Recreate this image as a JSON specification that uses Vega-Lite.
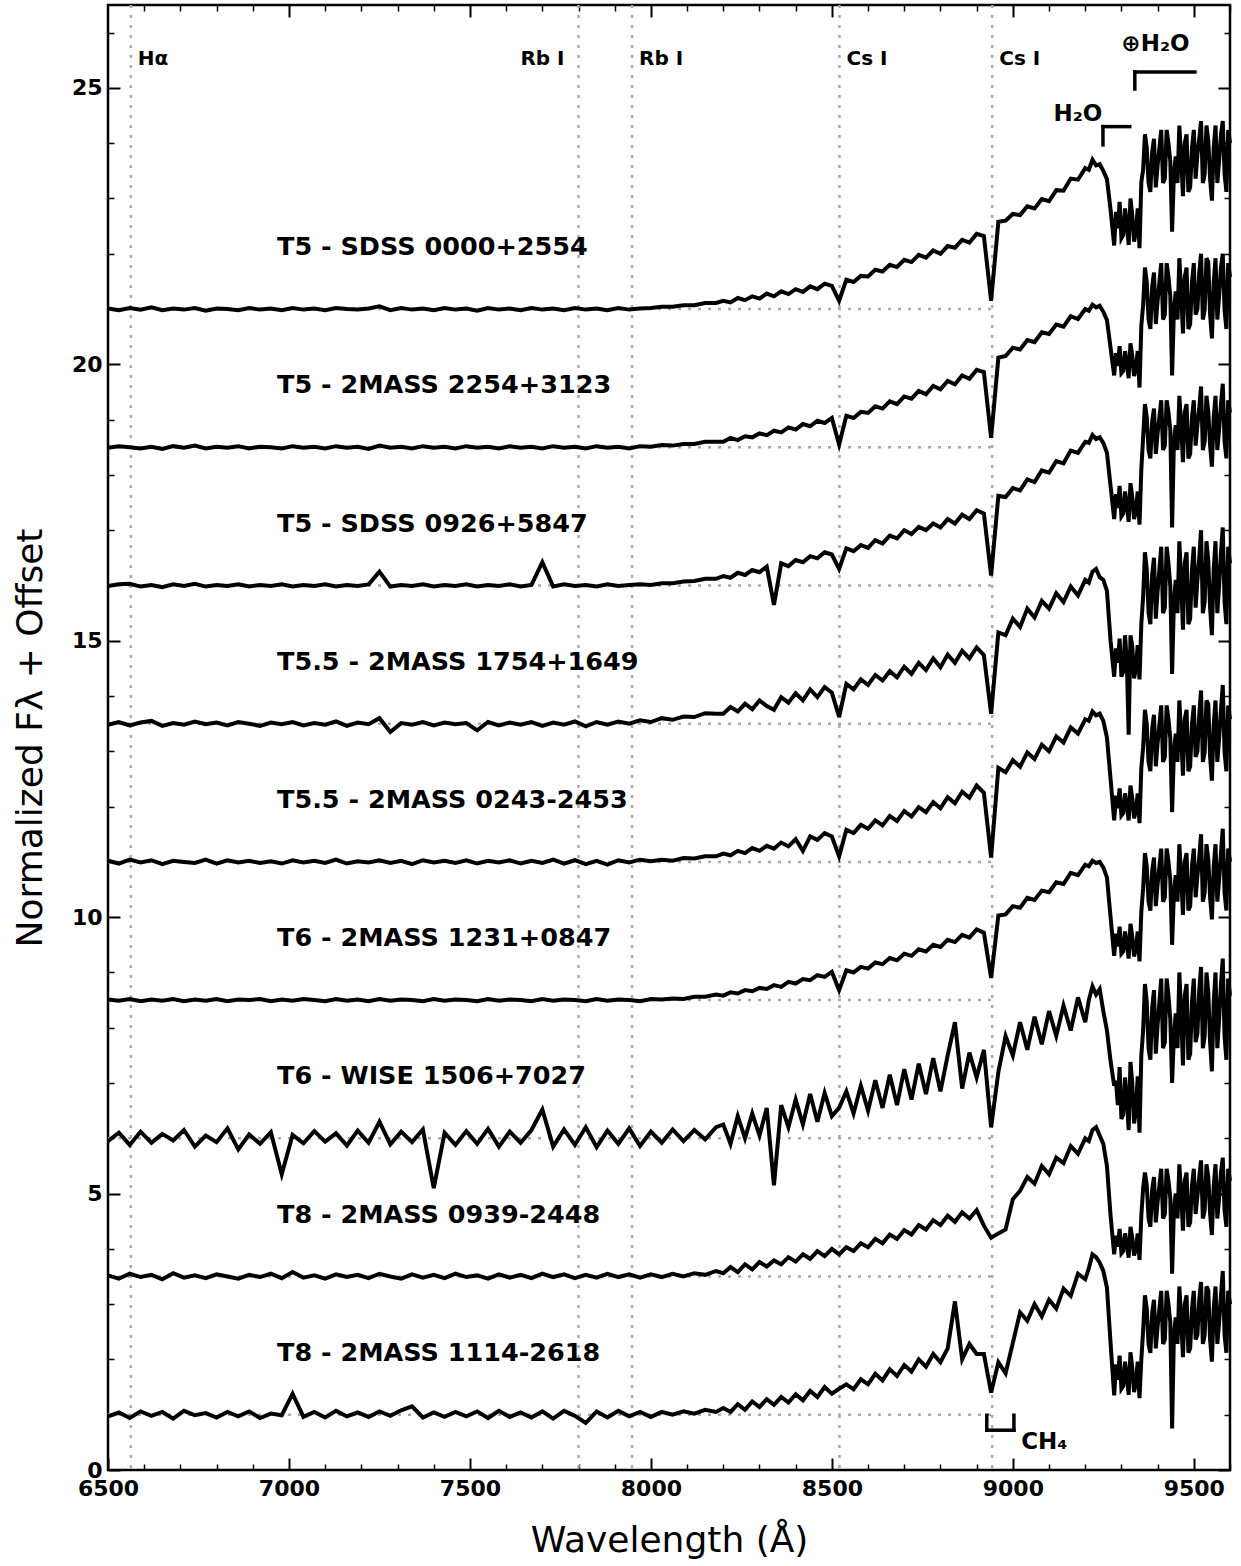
{
"$schema": "https://vega.github.io/schema/vega-lite/v6.json",
"width": 1122, "height": 1465,
"autosize": {"type": "none"},
"padding": {"left": 108, "top": 5, "right": 11, "bottom": 96},
"background": "white",
"config": {
 "view": {"stroke": "#000", "strokeWidth": 2.5},
 "font": "DejaVu Sans",
 "axis": {"labelFont": "DejaVu Sans", "labelFontWeight": "bold", "labelFontSize": 22, "labelColor": "#000", "tickColor": "#000", "domain": false, "grid": false, "titleFont": "DejaVu Sans", "titleFontWeight": "normal", "titleFontSize": 36, "titleColor": "#000", "format": "d", "labelFlush": false, "labelOverlap": false}
},
"resolve": {"axis": {"x": "independent", "y": "independent"}},
"datasets": {
 "spec": [
{"w":6500,"a":21.01,"b":18.49,"c":15.99,"d":13.48,"e":11.02,"f":8.51,"g":5.95,"h":3.52,"i":0.97},
{"w":6530,"a":20.98,"b":18.52,"c":16.02,"d":13.53,"e":10.97,"f":8.49,"g":6.1,"h":3.46,"i":1.04},
{"w":6560,"a":21.02,"b":18.5,"c":16.03,"d":13.47,"e":11.04,"f":8.52,"g":5.88,"h":3.55,"i":0.94},
{"w":6590,"a":20.99,"b":18.48,"c":15.98,"d":13.52,"e":10.99,"f":8.48,"g":6.12,"h":3.49,"i":1.06},
{"w":6620,"a":21.03,"b":18.51,"c":16.01,"d":13.55,"e":11.03,"f":8.51,"g":5.92,"h":3.53,"i":0.98},
{"w":6650,"a":20.98,"b":18.47,"c":15.97,"d":13.46,"e":10.96,"f":8.49,"g":6.08,"h":3.45,"i":1.05},
{"w":6680,"a":21.01,"b":18.52,"c":16.02,"d":13.51,"e":11.02,"f":8.52,"g":5.96,"h":3.56,"i":0.93},
{"w":6710,"a":20.99,"b":18.49,"c":15.99,"d":13.48,"e":11.0,"f":8.48,"g":6.15,"h":3.48,"i":1.07},
{"w":6740,"a":21.02,"b":18.53,"c":16.03,"d":13.54,"e":10.98,"f":8.51,"g":5.85,"h":3.52,"i":0.99},
{"w":6770,"a":20.97,"b":18.48,"c":15.98,"d":13.49,"e":11.04,"f":8.49,"g":6.05,"h":3.47,"i":1.03},
{"w":6800,"a":21.01,"b":18.51,"c":16.01,"d":13.52,"e":10.97,"f":8.52,"g":5.93,"h":3.54,"i":0.95},
{"w":6830,"a":21.0,"b":18.49,"c":15.99,"d":13.47,"e":11.03,"f":8.48,"g":6.18,"h":3.5,"i":1.05},
{"w":6860,"a":20.98,"b":18.52,"c":16.02,"d":13.53,"e":10.99,"f":8.51,"g":5.8,"h":3.46,"i":0.97},
{"w":6890,"a":21.02,"b":18.48,"c":15.98,"d":13.5,"e":11.02,"f":8.5,"g":6.07,"h":3.53,"i":1.06},
{"w":6920,"a":20.99,"b":18.51,"c":16.01,"d":13.46,"e":10.98,"f":8.52,"g":5.9,"h":3.49,"i":0.94},
{"w":6950,"a":21.01,"b":18.5,"c":15.99,"d":13.52,"e":11.01,"f":8.48,"g":6.11,"h":3.55,"i":1.02},
{"w":6980,"a":20.98,"b":18.48,"c":16.02,"d":13.49,"e":10.97,"f":8.51,"g":5.35,"h":3.47,"i":0.99},
{"w":7010,"a":21.02,"b":18.52,"c":15.98,"d":13.53,"e":11.03,"f":8.49,"g":6.06,"h":3.58,"i":1.38},
{"w":7040,"a":20.99,"b":18.49,"c":16.01,"d":13.47,"e":10.99,"f":8.52,"g":5.91,"h":3.48,"i":0.96},
{"w":7070,"a":21.01,"b":18.51,"c":15.99,"d":13.51,"e":11.02,"f":8.5,"g":6.13,"h":3.52,"i":1.05},
{"w":7100,"a":20.98,"b":18.48,"c":16.02,"d":13.48,"e":10.98,"f":8.48,"g":5.94,"h":3.46,"i":0.95},
{"w":7130,"a":21.02,"b":18.52,"c":15.98,"d":13.54,"e":11.04,"f":8.52,"g":6.09,"h":3.54,"i":1.07},
{"w":7160,"a":21.0,"b":18.49,"c":16.01,"d":13.46,"e":10.97,"f":8.49,"g":5.87,"h":3.49,"i":0.97},
{"w":7190,"a":20.99,"b":18.51,"c":15.99,"d":13.52,"e":11.01,"f":8.51,"g":6.14,"h":3.53,"i":1.04},
{"w":7220,"a":21.01,"b":18.47,"c":16.02,"d":13.49,"e":10.99,"f":8.48,"g":5.92,"h":3.47,"i":0.96},
{"w":7250,"a":21.05,"b":18.53,"c":16.25,"d":13.6,"e":11.03,"f":8.52,"g":6.3,"h":3.55,"i":1.06},
{"w":7280,"a":20.98,"b":18.49,"c":15.98,"d":13.35,"e":10.98,"f":8.49,"g":5.89,"h":3.5,"i":0.98},
{"w":7310,"a":21.02,"b":18.51,"c":16.01,"d":13.51,"e":11.02,"f":8.51,"g":6.12,"h":3.46,"i":1.08},
{"w":7340,"a":20.99,"b":18.48,"c":15.99,"d":13.48,"e":10.96,"f":8.5,"g":5.93,"h":3.54,"i":1.15},
{"w":7370,"a":21.01,"b":18.52,"c":16.02,"d":13.53,"e":11.03,"f":8.48,"g":6.16,"h":3.48,"i":0.95},
{"w":7400,"a":20.98,"b":18.49,"c":15.98,"d":13.47,"e":10.99,"f":8.52,"g":5.1,"h":3.53,"i":1.04},
{"w":7430,"a":21.02,"b":18.51,"c":16.01,"d":13.52,"e":11.02,"f":8.49,"g":6.1,"h":3.47,"i":0.96},
{"w":7460,"a":20.99,"b":18.48,"c":15.99,"d":13.49,"e":10.98,"f":8.51,"g":5.88,"h":3.55,"i":1.05},
{"w":7490,"a":21.01,"b":18.52,"c":16.02,"d":13.51,"e":11.03,"f":8.5,"g":6.13,"h":3.49,"i":0.97},
{"w":7520,"a":20.97,"b":18.49,"c":15.98,"d":13.38,"e":10.97,"f":8.48,"g":5.9,"h":3.52,"i":1.06},
{"w":7550,"a":21.02,"b":18.51,"c":16.01,"d":13.53,"e":11.02,"f":8.52,"g":6.17,"h":3.46,"i":0.94},
{"w":7580,"a":20.99,"b":18.48,"c":15.99,"d":13.47,"e":10.99,"f":8.49,"g":5.85,"h":3.54,"i":1.07},
{"w":7610,"a":21.01,"b":18.52,"c":16.02,"d":13.52,"e":11.03,"f":8.51,"g":6.12,"h":3.48,"i":0.96},
{"w":7640,"a":20.98,"b":18.49,"c":15.98,"d":13.48,"e":10.97,"f":8.5,"g":5.92,"h":3.53,"i":1.04},
{"w":7670,"a":21.02,"b":18.51,"c":16.01,"d":13.53,"e":11.02,"f":8.48,"g":6.15,"h":3.47,"i":0.95},
{"w":7700,"a":20.99,"b":18.48,"c":16.42,"d":13.46,"e":10.98,"f":8.52,"g":6.52,"h":3.55,"i":1.06},
{"w":7730,"a":21.01,"b":18.52,"c":15.98,"d":13.52,"e":11.04,"f":8.49,"g":5.85,"h":3.49,"i":0.93},
{"w":7760,"a":20.98,"b":18.49,"c":16.02,"d":13.48,"e":10.97,"f":8.51,"g":6.16,"h":3.54,"i":1.07},
{"w":7790,"a":21.02,"b":18.51,"c":15.99,"d":13.54,"e":11.03,"f":8.5,"g":5.88,"h":3.47,"i":0.98},
{"w":7820,"a":20.99,"b":18.48,"c":16.01,"d":13.45,"e":10.96,"f":8.48,"g":6.2,"h":3.53,"i":0.85},
{"w":7850,"a":21.01,"b":18.52,"c":15.98,"d":13.53,"e":11.02,"f":8.52,"g":5.84,"h":3.48,"i":1.06},
{"w":7880,"a":20.98,"b":18.49,"c":16.02,"d":13.48,"e":10.95,"f":8.49,"g":6.14,"h":3.55,"i":0.95},
{"w":7910,"a":21.02,"b":18.51,"c":15.99,"d":13.54,"e":11.03,"f":8.51,"g":5.9,"h":3.49,"i":1.07},
{"w":7940,"a":20.99,"b":18.48,"c":16.01,"d":13.5,"e":10.99,"f":8.5,"g":6.18,"h":3.54,"i":0.97},
{"w":7970,"a":21.01,"b":18.52,"c":16.02,"d":13.56,"e":11.04,"f":8.48,"g":5.86,"h":3.48,"i":1.05},
{"w":8000,"a":21.02,"b":18.51,"c":16.01,"d":13.53,"e":11.01,"f":8.52,"g":6.12,"h":3.54,"i":0.96},
{"w":8030,"a":21.04,"b":18.54,"c":16.04,"d":13.6,"e":11.04,"f":8.51,"g":5.92,"h":3.49,"i":1.05},
{"w":8060,"a":21.04,"b":18.53,"c":16.04,"d":13.57,"e":11.02,"f":8.53,"g":6.16,"h":3.55,"i":1.0},
{"w":8090,"a":21.07,"b":18.56,"c":16.07,"d":13.63,"e":11.07,"f":8.52,"g":5.95,"h":3.5,"i":1.06},
{"w":8120,"a":21.07,"b":18.56,"c":16.08,"d":13.62,"e":11.06,"f":8.56,"g":6.15,"h":3.56,"i":1.02},
{"w":8150,"a":21.11,"b":18.6,"c":16.12,"d":13.69,"e":11.1,"f":8.56,"g":5.98,"h":3.53,"i":1.09},
{"w":8180,"a":21.11,"b":18.6,"c":16.12,"d":13.68,"e":11.1,"f":8.6,"g":6.2,"h":3.6,"i":1.05},
{"w":8200,"a":21.15,"b":18.6,"c":16.17,"d":13.68,"e":11.15,"f":8.58,"g":6.25,"h":3.56,"i":1.12},
{"w":8220,"a":21.12,"b":18.67,"c":16.14,"d":13.8,"e":11.12,"f":8.64,"g":5.9,"h":3.67,"i":1.05},
{"w":8240,"a":21.2,"b":18.63,"c":16.23,"d":13.72,"e":11.2,"f":8.62,"g":6.4,"h":3.58,"i":1.19},
{"w":8260,"a":21.16,"b":18.7,"c":16.19,"d":13.86,"e":11.16,"f":8.68,"g":6.0,"h":3.72,"i":1.09},
{"w":8280,"a":21.23,"b":18.68,"c":16.28,"d":13.76,"e":11.25,"f":8.66,"g":6.45,"h":3.63,"i":1.24},
{"w":8300,"a":21.19,"b":18.75,"c":16.24,"d":13.92,"e":11.2,"f":8.72,"g":6.05,"h":3.76,"i":1.14},
{"w":8320,"a":21.28,"b":18.72,"c":16.34,"d":13.82,"e":11.29,"f":8.7,"g":6.55,"h":3.68,"i":1.28},
{"w":8340,"a":21.23,"b":18.8,"c":15.65,"d":13.75,"e":11.24,"f":8.77,"g":5.15,"h":3.79,"i":1.18},
{"w":8360,"a":21.32,"b":18.77,"c":16.4,"d":13.98,"e":11.35,"f":8.74,"g":6.6,"h":3.72,"i":1.32},
{"w":8380,"a":21.27,"b":18.86,"c":16.35,"d":13.88,"e":11.28,"f":8.83,"g":6.2,"h":3.85,"i":1.22},
{"w":8400,"a":21.36,"b":18.82,"c":16.46,"d":14.05,"e":11.41,"f":8.8,"g":6.7,"h":3.77,"i":1.37},
{"w":8420,"a":21.31,"b":18.92,"c":16.42,"d":13.92,"e":11.2,"f":8.88,"g":6.25,"h":3.9,"i":1.26},
{"w":8440,"a":21.41,"b":18.88,"c":16.53,"d":14.12,"e":11.46,"f":8.86,"g":6.8,"h":3.82,"i":1.43},
{"w":8460,"a":21.36,"b":18.98,"c":16.49,"d":13.98,"e":11.4,"f":8.95,"g":6.3,"h":3.96,"i":1.32},
{"w":8480,"a":21.46,"b":18.94,"c":16.6,"d":14.16,"e":11.52,"f":8.92,"g":6.82,"h":3.87,"i":1.5},
{"w":8500,"a":21.42,"b":19.03,"c":16.56,"d":14.06,"e":11.46,"f":9.01,"g":6.4,"h":4.0,"i":1.38},
{"w":8520,"a":21.15,"b":18.55,"c":16.3,"d":13.62,"e":11.1,"f":8.68,"g":6.55,"h":3.9,"i":1.47},
{"w":8540,"a":21.53,"b":19.07,"c":16.67,"d":14.22,"e":11.58,"f":9.04,"g":6.85,"h":4.03,"i":1.55},
{"w":8560,"a":21.49,"b":19.03,"c":16.62,"d":14.12,"e":11.52,"f":9.0,"g":6.45,"h":3.96,"i":1.46},
{"w":8580,"a":21.6,"b":19.14,"c":16.73,"d":14.3,"e":11.67,"f":9.1,"g":6.95,"h":4.1,"i":1.64},
{"w":8600,"a":21.59,"b":19.12,"c":16.68,"d":14.2,"e":11.6,"f":9.07,"g":6.5,"h":4.03,"i":1.55},
{"w":8620,"a":21.71,"b":19.24,"c":16.82,"d":14.38,"e":11.75,"f":9.18,"g":7.05,"h":4.18,"i":1.74},
{"w":8640,"a":21.68,"b":19.2,"c":16.76,"d":14.28,"e":11.66,"f":9.15,"g":6.55,"h":4.1,"i":1.62},
{"w":8660,"a":21.8,"b":19.33,"c":16.9,"d":14.45,"e":11.83,"f":9.26,"g":7.15,"h":4.26,"i":1.82},
{"w":8680,"a":21.76,"b":19.28,"c":16.85,"d":14.34,"e":11.74,"f":9.22,"g":6.6,"h":4.18,"i":1.7},
{"w":8700,"a":21.89,"b":19.42,"c":17.0,"d":14.53,"e":11.92,"f":9.34,"g":7.25,"h":4.34,"i":1.9},
{"w":8720,"a":21.85,"b":19.38,"c":16.93,"d":14.4,"e":11.82,"f":9.3,"g":6.7,"h":4.26,"i":1.78},
{"w":8740,"a":21.98,"b":19.52,"c":17.06,"d":14.6,"e":11.99,"f":9.42,"g":7.35,"h":4.43,"i":2.0},
{"w":8760,"a":21.93,"b":19.46,"c":17.0,"d":14.47,"e":11.9,"f":9.38,"g":6.8,"h":4.35,"i":1.87},
{"w":8780,"a":22.06,"b":19.61,"c":17.12,"d":14.68,"e":12.08,"f":9.5,"g":7.45,"h":4.52,"i":2.1},
{"w":8800,"a":22.0,"b":19.55,"c":17.05,"d":14.52,"e":11.97,"f":9.46,"g":6.85,"h":4.43,"i":1.95},
{"w":8820,"a":22.14,"b":19.7,"c":17.2,"d":14.75,"e":12.17,"f":9.59,"g":7.5,"h":4.6,"i":2.2},
{"w":8840,"a":22.11,"b":19.64,"c":17.12,"d":14.6,"e":12.06,"f":9.55,"g":8.1,"h":4.49,"i":3.05},
{"w":8860,"a":22.25,"b":19.8,"c":17.28,"d":14.82,"e":12.27,"f":9.68,"g":6.9,"h":4.66,"i":2.0},
{"w":8880,"a":22.2,"b":19.74,"c":17.2,"d":14.68,"e":12.16,"f":9.63,"g":7.55,"h":4.55,"i":2.28},
{"w":8900,"a":22.36,"b":19.9,"c":17.36,"d":14.88,"e":12.38,"f":9.78,"g":7.1,"h":4.7,"i":2.1},
{"w":8920,"a":22.32,"b":19.86,"c":17.3,"d":14.74,"e":12.25,"f":9.72,"g":7.6,"h":4.42,"i":2.1},
{"w":8940,"a":21.15,"b":18.67,"c":16.18,"d":13.68,"e":11.08,"f":8.9,"g":6.2,"h":4.2,"i":1.4},
{"w":8960,"a":22.58,"b":20.12,"c":17.62,"d":15.15,"e":12.7,"f":10.03,"g":7.2,"h":4.28,"i":1.95},
{"w":8980,"a":22.6,"b":20.15,"c":17.6,"d":15.1,"e":12.62,"f":10.05,"g":7.85,"h":4.35,"i":1.75},
{"w":9000,"a":22.72,"b":20.3,"c":17.76,"d":15.4,"e":12.84,"f":10.2,"g":7.5,"h":4.9,"i":2.3},
{"w":9020,"a":22.7,"b":20.27,"c":17.72,"d":15.25,"e":12.72,"f":10.17,"g":8.1,"h":5.05,"i":2.85},
{"w":9040,"a":22.86,"b":20.44,"c":17.92,"d":15.58,"e":12.98,"f":10.35,"g":7.6,"h":5.3,"i":2.7},
{"w":9060,"a":22.82,"b":20.4,"c":17.87,"d":15.42,"e":12.86,"f":10.31,"g":8.2,"h":5.18,"i":3.0},
{"w":9080,"a":22.99,"b":20.58,"c":18.08,"d":15.72,"e":13.12,"f":10.48,"g":7.7,"h":5.5,"i":2.78},
{"w":9100,"a":22.95,"b":20.55,"c":18.04,"d":15.58,"e":13.0,"f":10.45,"g":8.3,"h":5.35,"i":3.08},
{"w":9120,"a":23.15,"b":20.72,"c":18.25,"d":15.86,"e":13.27,"f":10.63,"g":7.85,"h":5.65,"i":2.92},
{"w":9140,"a":23.14,"b":20.68,"c":18.21,"d":15.7,"e":13.16,"f":10.6,"g":8.4,"h":5.55,"i":3.28},
{"w":9160,"a":23.36,"b":20.87,"c":18.44,"d":15.98,"e":13.43,"f":10.8,"g":7.95,"h":5.86,"i":3.15},
{"w":9180,"a":23.34,"b":20.82,"c":18.4,"d":15.82,"e":13.32,"f":10.76,"g":8.55,"h":5.72,"i":3.55},
{"w":9200,"a":23.55,"b":21.0,"c":18.6,"d":16.1,"e":13.58,"f":10.95,"g":8.1,"h":6.0,"i":3.45},
{"w":9210,"a":23.52,"b":20.97,"c":18.58,"d":16.05,"e":13.55,"f":10.92,"g":8.5,"h":5.95,"i":3.65},
{"w":9220,"a":23.7,"b":21.08,"c":18.72,"d":16.25,"e":13.72,"f":11.02,"g":8.75,"h":6.15,"i":3.9},
{"w":9230,"a":23.6,"b":21.03,"c":18.65,"d":16.3,"e":13.65,"f":10.98,"g":8.6,"h":6.2,"i":3.85},
{"w":9240,"a":23.62,"b":21.06,"c":18.68,"d":16.15,"e":13.68,"f":11.0,"g":8.7,"h":6.05,"i":3.75},
{"w":9250,"a":23.5,"b":20.95,"c":18.58,"d":16.1,"e":13.55,"f":10.9,"g":8.3,"h":5.9,"i":3.6},
{"w":9260,"a":23.35,"b":20.8,"c":18.4,"d":15.9,"e":13.25,"f":10.72,"g":7.95,"h":5.5,"i":3.3},
{"w":9270,"a":22.8,"b":20.3,"c":17.8,"d":15.0,"e":12.5,"f":10.0,"g":7.4,"h":4.6,"i":2.3},
{"w":9280,"a":22.15,"b":19.8,"c":17.2,"d":14.35,"e":11.75,"f":9.3,"g":6.95,"h":3.9,"i":1.35},
{"w":9290,"a":22.46,"b":19.97,"c":17.4,"d":14.6,"e":11.97,"f":9.47,"g":6.6,"h":4.04,"i":1.63},
{"w":9300,"a":22.28,"b":19.84,"c":17.25,"d":14.35,"e":11.84,"f":9.34,"g":6.35,"h":3.92,"i":1.47},
{"w":9310,"a":22.82,"b":20.24,"c":17.7,"d":15.1,"e":12.24,"f":9.74,"g":7.1,"h":4.28,"i":1.96},
{"w":9320,"a":22.16,"b":19.75,"c":17.15,"d":13.3,"e":11.75,"f":9.25,"g":6.15,"h":3.84,"i":1.36},
{"w":9330,"a":22.7,"b":20.15,"c":17.6,"d":14.9,"e":12.15,"f":9.65,"g":7.0,"h":4.2,"i":1.85},
{"w":9340,"a":22.4,"b":19.93,"c":17.35,"d":14.5,"e":11.93,"f":9.43,"g":6.5,"h":4.0,"i":1.58},
{"w":9350,"a":22.1,"b":19.58,"c":17.1,"d":14.3,"e":11.7,"f":9.2,"g":6.1,"h":3.8,"i":1.3},
{"w":9360,"a":23.52,"b":21.07,"c":18.68,"d":15.8,"e":13.07,"f":10.52,"g":7.95,"h":5.1,"i":2.52},
{"w":9370,"a":23.92,"b":21.49,"c":19.05,"d":16.3,"e":13.49,"f":10.92,"g":8.47,"h":5.15,"i":2.92},
{"w":9380,"a":23.12,"b":20.64,"c":18.3,"d":15.3,"e":12.64,"f":10.12,"g":7.42,"h":4.4,"i":2.12},
{"w":9390,"a":24.08,"b":21.66,"c":19.2,"d":16.5,"e":13.66,"f":11.08,"g":8.68,"h":5.3,"i":3.08},
{"w":9400,"a":23.6,"b":21.15,"c":18.75,"d":15.9,"e":13.15,"f":10.6,"g":8.05,"h":4.85,"i":2.6},
{"w":9410,"a":24.24,"b":21.83,"c":19.35,"d":16.7,"e":13.83,"f":11.24,"g":8.89,"h":5.45,"i":3.24},
{"w":9420,"a":23.36,"b":20.9,"c":18.53,"d":15.6,"e":12.9,"f":10.36,"g":7.74,"h":4.63,"i":2.36},
{"w":9430,"a":24.0,"b":21.58,"c":19.13,"d":16.4,"e":13.58,"f":11.0,"g":8.58,"h":5.23,"i":3.0},
{"w":9440,"a":22.4,"b":19.8,"c":17.05,"d":14.4,"e":11.9,"f":9.5,"g":7.0,"h":3.55,"i":0.75},
{"w":9450,"a":23.76,"b":21.32,"c":18.9,"d":16.1,"e":13.32,"f":10.76,"g":8.26,"h":5.0,"i":2.76},
{"w":9460,"a":24.32,"b":21.92,"c":19.43,"d":16.8,"e":13.92,"f":11.32,"g":9.0,"h":5.53,"i":3.32},
{"w":9470,"a":23.04,"b":20.56,"c":18.23,"d":15.2,"e":12.56,"f":10.04,"g":7.32,"h":4.33,"i":2.04},
{"w":9480,"a":24.16,"b":21.75,"c":19.28,"d":16.6,"e":13.75,"f":11.16,"g":8.79,"h":5.38,"i":3.16},
{"w":9490,"a":23.2,"b":20.73,"c":18.38,"d":15.4,"e":12.73,"f":10.2,"g":7.53,"h":4.48,"i":2.2},
{"w":9500,"a":24.24,"b":21.83,"c":19.35,"d":16.7,"e":13.83,"f":11.24,"g":8.89,"h":5.45,"i":3.24},
{"w":9510,"a":23.8,"b":21.0,"c":18.9,"d":16.1,"e":13.0,"f":10.75,"g":7.9,"h":4.95,"i":2.45},
{"w":9520,"a":24.4,"b":22.0,"c":19.6,"d":17.0,"e":14.1,"f":11.5,"g":9.1,"h":5.6,"i":3.4},
{"w":9530,"a":23.44,"b":20.98,"c":18.6,"d":15.7,"e":12.98,"f":10.44,"g":7.84,"h":4.7,"i":2.44},
{"w":9540,"a":24.05,"b":21.85,"c":19.15,"d":16.45,"e":13.85,"f":11.05,"g":8.65,"h":5.3,"i":3.25},
{"w":9550,"a":22.96,"b":20.47,"c":18.15,"d":15.1,"e":12.47,"f":9.96,"g":7.21,"h":4.25,"i":1.96},
{"w":9560,"a":24.32,"b":21.92,"c":19.43,"d":16.8,"e":13.92,"f":11.32,"g":9.0,"h":5.53,"i":3.32},
{"w":9570,"a":23.68,"b":21.24,"c":18.83,"d":16.0,"e":13.24,"f":10.68,"g":8.16,"h":4.93,"i":2.68},
{"w":9580,"a":24.4,"b":22.0,"c":19.65,"d":17.05,"e":14.2,"f":11.6,"g":9.25,"h":5.65,"i":3.6},
{"w":9590,"a":23.12,"b":20.64,"c":18.3,"d":15.3,"e":12.64,"f":10.12,"g":7.42,"h":4.4,"i":2.12},
{"w":9600,"a":24.0,"b":21.58,"c":19.13,"d":16.4,"e":13.58,"f":11.0,"g":8.58,"h":5.23,"i":3.0},
{"w":9285,"a":22.76,"b":20.2,"c":17.65,"d":14.86,"e":12.2,"f":9.7,"g":7.04,"h":4.24,"i":1.91},
{"w":9295,"a":22.94,"b":20.33,"c":17.8,"d":15.04,"e":12.33,"f":9.83,"g":7.29,"h":4.36,"i":2.07},
{"w":9305,"a":22.34,"b":19.88,"c":17.3,"d":14.44,"e":11.88,"f":9.38,"g":6.44,"h":3.96,"i":1.52},
{"w":9315,"a":22.52,"b":20.02,"c":17.45,"d":14.62,"e":12.02,"f":9.52,"g":6.7,"h":4.08,"i":1.69},
{"w":9325,"a":23.0,"b":20.38,"c":17.85,"d":15.1,"e":12.38,"f":9.88,"g":7.38,"h":4.4,"i":2.13},
{"w":9335,"a":22.22,"b":19.79,"c":17.2,"d":14.32,"e":11.79,"f":9.29,"g":6.27,"h":3.88,"i":1.41},
{"w":9345,"a":22.82,"b":20.24,"c":17.7,"d":14.92,"e":12.24,"f":9.74,"g":7.12,"h":4.28,"i":1.96},
{"w":9355,"a":23.3,"b":20.7,"c":18.1,"d":15.3,"e":12.7,"f":10.1,"g":7.5,"h":4.6,"i":2.0},
{"w":9365,"a":24.16,"b":21.75,"c":19.28,"d":16.6,"e":13.75,"f":11.16,"g":8.79,"h":5.38,"i":3.16},
{"w":9375,"a":23.28,"b":20.81,"c":18.45,"d":15.5,"e":12.81,"f":10.28,"g":7.63,"h":4.55,"i":2.28},
{"w":9385,"a":23.84,"b":21.41,"c":18.98,"d":16.2,"e":13.41,"f":10.84,"g":8.37,"h":5.08,"i":2.84},
{"w":9395,"a":23.2,"b":20.73,"c":18.38,"d":15.4,"e":12.73,"f":10.2,"g":7.53,"h":4.48,"i":2.2},
{"w":9405,"a":23.92,"b":21.49,"c":19.05,"d":16.3,"e":13.49,"f":10.92,"g":8.47,"h":5.15,"i":2.92},
{"w":9415,"a":23.28,"b":20.81,"c":18.45,"d":15.5,"e":12.81,"f":10.28,"g":7.63,"h":4.55,"i":2.28},
{"w":9425,"a":24.24,"b":21.83,"c":19.35,"d":16.7,"e":13.83,"f":11.24,"g":8.89,"h":5.45,"i":3.24},
{"w":9435,"a":23.68,"b":21.24,"c":18.83,"d":16.0,"e":13.24,"f":10.68,"g":8.16,"h":4.93,"i":2.68},
{"w":9445,"a":23.44,"b":20.98,"c":18.6,"d":15.7,"e":12.98,"f":10.44,"g":7.84,"h":4.7,"i":2.44},
{"w":9455,"a":23.28,"b":20.81,"c":18.45,"d":15.5,"e":12.81,"f":10.28,"g":7.63,"h":4.55,"i":2.28},
{"w":9465,"a":23.76,"b":21.32,"c":18.9,"d":16.1,"e":13.32,"f":10.76,"g":8.26,"h":5.0,"i":2.76},
{"w":9475,"a":24.0,"b":21.58,"c":19.13,"d":16.4,"e":13.58,"f":11.0,"g":8.58,"h":5.23,"i":3.0},
{"w":9485,"a":23.12,"b":20.64,"c":18.3,"d":15.3,"e":12.64,"f":10.12,"g":7.42,"h":4.4,"i":2.12},
{"w":9495,"a":23.92,"b":21.49,"c":19.05,"d":16.3,"e":13.49,"f":10.92,"g":8.47,"h":5.15,"i":2.92},
{"w":9505,"a":23.36,"b":20.9,"c":18.53,"d":15.6,"e":12.9,"f":10.36,"g":7.74,"h":4.63,"i":2.36},
{"w":9515,"a":24.08,"b":21.66,"c":19.2,"d":16.5,"e":13.66,"f":11.08,"g":8.68,"h":5.3,"i":3.08},
{"w":9525,"a":23.28,"b":20.81,"c":18.45,"d":15.5,"e":12.81,"f":10.28,"g":7.63,"h":4.55,"i":2.28},
{"w":9535,"a":24.32,"b":21.92,"c":19.43,"d":16.8,"e":13.92,"f":11.32,"g":9.0,"h":5.53,"i":3.32},
{"w":9545,"a":23.36,"b":20.9,"c":18.53,"d":15.6,"e":12.9,"f":10.36,"g":7.74,"h":4.63,"i":2.36},
{"w":9555,"a":23.92,"b":21.49,"c":19.05,"d":16.3,"e":13.49,"f":10.92,"g":8.47,"h":5.15,"i":2.92},
{"w":9565,"a":23.28,"b":20.81,"c":18.45,"d":15.5,"e":12.81,"f":10.28,"g":7.63,"h":4.55,"i":2.28},
{"w":9575,"a":24.16,"b":21.75,"c":19.28,"d":16.6,"e":13.75,"f":11.16,"g":8.79,"h":5.38,"i":3.16},
{"w":9585,"a":23.44,"b":20.98,"c":18.6,"d":15.7,"e":12.98,"f":10.44,"g":7.84,"h":4.7,"i":2.44},
{"w":9595,"a":24.24,"b":21.83,"c":19.35,"d":16.7,"e":13.83,"f":11.24,"g":8.89,"h":5.45,"i":3.24}
 ],
 "baselines": [
  {"x1":6500,"x2":8943,"y":21},{"x1":6500,"x2":8943,"y":18.5},{"x1":6500,"x2":8943,"y":16},
  {"x1":6500,"x2":8943,"y":13.5},{"x1":6500,"x2":8943,"y":11},{"x1":6500,"x2":8943,"y":8.5},
  {"x1":6500,"x2":8943,"y":6},{"x1":6500,"x2":8943,"y":3.5},{"x1":6500,"x2":8943,"y":1}
 ],
 "lines": [{"w":6563,"t":"Hα"},{"w":7800,"t":"Rb I"},{"w":7948,"t":"Rb I"},{"w":8521,"t":"Cs I"},{"w":8943,"t":"Cs I"}],
 "brackets": [
  {"x1":9249,"x2":9323,"y1":24.3,"y2":24.3},
  {"x1":9249,"x2":9249,"y1":24.3,"y2":23.97},
  {"x1":9337,"x2":9503,"y1":25.29,"y2":25.29},
  {"x1":9337,"x2":9337,"y1":25.29,"y2":24.98},
  {"x1":8928,"x2":9003,"y1":0.72,"y2":0.72},
  {"x1":8928,"x2":8928,"y1":0.72,"y2":0.99},
  {"x1":9003,"x2":9003,"y1":0.72,"y2":0.99}
 ],
 "mol": [
  {"w":9394,"y":25.8,"t":"⊕H₂O"},
  {"w":9180,"y":24.52,"t":"H₂O"},
  {"w":9087,"y":0.5,"t":"CH₄"}
 ],
 "names": [
  {"w":6967,"y":22.12,"t":"T5 - SDSS 0000+2554"},
  {"w":6967,"y":19.62,"t":"T5 - 2MASS 2254+3123"},
  {"w":6967,"y":17.12,"t":"T5 - SDSS 0926+5847"},
  {"w":6967,"y":14.62,"t":"T5.5 - 2MASS 1754+1649"},
  {"w":6967,"y":12.12,"t":"T5.5 - 2MASS 0243-2453"},
  {"w":6967,"y":9.62,"t":"T6 - 2MASS 1231+0847"},
  {"w":6967,"y":7.12,"t":"T6 - WISE 1506+7027"},
  {"w":6967,"y":4.62,"t":"T8 - 2MASS 0939-2448"},
  {"w":6967,"y":2.12,"t":"T8 - 2MASS 1114-2618"}
 ]
},
"layer": [
 {
  "data": {"name": "baselines"},
  "mark": {"type": "rule", "strokeDash": [3, 7], "color": "#aaaaaa", "strokeWidth": 2.5},
  "encoding": {
   "x": {"field": "x1", "type": "quantitative", "scale": {"domain": [6500, 9600], "nice": false, "zero": false},
    "axis": {"orient": "bottom", "values": [6600,6700,6800,6900,7100,7200,7300,7400,7600,7700,7800,7900,8100,8200,8300,8400,8600,8700,8800,8900,9100,9200,9300,9400,9600], "labels": false, "tickSize": -6, "tickWidth": 1.5, "title": null}},
   "x2": {"field": "x2"},
   "y": {"field": "y", "type": "quantitative", "scale": {"domain": [0, 26.5], "nice": false, "zero": false},
    "axis": {"orient": "left", "values": [1,2,3,4,6,7,8,9,11,12,13,14,16,17,18,19,21,22,23,24,26], "labels": false, "tickSize": -6, "tickWidth": 1.5, "title": null}}
  }
 },
 {
  "data": {"name": "lines"},
  "mark": {"type": "rule", "strokeDash": [3, 7], "color": "#aaaaaa", "strokeWidth": 2.5},
  "encoding": {
   "x": {"field": "w", "type": "quantitative", "scale": {"domain": [6500, 9600], "nice": false, "zero": false},
    "axis": {"orient": "top", "values": [7000,7500,8000,8500,9000,9500], "labels": false, "tickSize": -12, "tickWidth": 2, "title": null}}
  }
 },
 {
  "data": {"name": "spec"},
  "transform": [{"fold": ["a","b","c","d","e","f","g","h","i"], "as": ["s", "v"]}],
  "mark": {"type": "line", "color": "#000", "strokeWidth": 4, "strokeJoin": "miter"},
  "encoding": {
   "x": {"field": "w", "type": "quantitative", "scale": {"domain": [6500, 9600], "nice": false, "zero": false},
    "axis": {"orient": "bottom", "values": [6500,7000,7500,8000,8500,9000,9500], "tickSize": -12, "tickWidth": 2, "labelPadding": 20, "title": "Wavelength (Å)", "titlePadding": 24}},
   "y": {"field": "v", "type": "quantitative", "scale": {"domain": [0, 26.5], "nice": false, "zero": false},
    "axis": {"orient": "left", "values": [0,5,10,15,20,25], "tickSize": -12, "tickWidth": 2, "labelPadding": 18, "title": "Normalized Fλ + Offset", "titlePadding": 22}},
   "detail": {"field": "s"}
  }
 },
 {
  "data": {"name": "brackets"},
  "mark": {"type": "rule", "color": "#000", "strokeWidth": 3.5, "strokeCap": "square"},
  "encoding": {
   "x": {"field": "x1", "type": "quantitative", "scale": {"domain": [6500, 9600], "nice": false, "zero": false}, "axis": null},
   "x2": {"field": "x2"},
   "y": {"field": "y1", "type": "quantitative", "scale": {"domain": [0, 26.5], "nice": false, "zero": false}, "axis": null},
   "y2": {"field": "y2"}
  }
 },
 {
  "data": {"name": "names"},
  "mark": {"type": "text", "align": "left", "baseline": "middle", "fontSize": 25.5, "fontWeight": "bold", "font": "DejaVu Sans", "color": "#000"},
  "encoding": {
   "x": {"field": "w", "type": "quantitative", "scale": {"domain": [6500, 9600], "nice": false, "zero": false},
    "axis": {"orient": "top", "values": [6600,6700,6800,6900,7100,7200,7300,7400,7600,7700,7800,7900,8100,8200,8300,8400,8600,8700,8800,8900,9100,9200,9300,9400,9600], "labels": false, "tickSize": -6, "tickWidth": 1.5, "title": null}},
   "y": {"field": "y", "type": "quantitative", "scale": {"domain": [0, 26.5], "nice": false, "zero": false},
    "axis": {"orient": "right", "values": [0,5,10,15,20,25], "labels": false, "tickSize": -12, "tickWidth": 2, "title": null}},
   "text": {"field": "t"}
  }
 },
 {
  "data": {"name": "lines"},
  "transform": [{"filter": "datum.w != 7800"}],
  "mark": {"type": "text", "align": "left", "baseline": "middle", "dx": 7, "fontSize": 20, "fontWeight": "bold", "font": "DejaVu Sans", "color": "#000"},
  "encoding": {
   "x": {"field": "w", "type": "quantitative", "scale": {"domain": [6500, 9600], "nice": false, "zero": false}, "axis": null},
   "y": {"datum": 25.52, "type": "quantitative", "scale": {"domain": [0, 26.5], "nice": false, "zero": false},
    "axis": {"orient": "right", "values": [1,2,3,4,6,7,8,9,11,12,13,14,16,17,18,19,21,22,23,24,26], "labels": false, "tickSize": -6, "tickWidth": 1.5, "title": null}},
   "text": {"field": "t"}
  }
 },
 {
  "data": {"name": "lines"},
  "transform": [{"filter": "datum.w == 7800"}],
  "mark": {"type": "text", "align": "right", "baseline": "middle", "dx": -14, "fontSize": 20, "fontWeight": "bold", "font": "DejaVu Sans", "color": "#000"},
  "encoding": {
   "x": {"field": "w", "type": "quantitative", "scale": {"domain": [6500, 9600], "nice": false, "zero": false}, "axis": null},
   "y": {"datum": 25.52, "type": "quantitative", "scale": {"domain": [0, 26.5], "nice": false, "zero": false}, "axis": null},
   "text": {"field": "t"}
  }
 },
 {
  "data": {"name": "mol"},
  "mark": {"type": "text", "align": "center", "baseline": "middle", "fontSize": 23, "fontWeight": "bold", "font": "DejaVu Sans", "color": "#000"},
  "encoding": {
   "x": {"field": "w", "type": "quantitative", "scale": {"domain": [6500, 9600], "nice": false, "zero": false}, "axis": null},
   "y": {"field": "y", "type": "quantitative", "scale": {"domain": [0, 26.5], "nice": false, "zero": false}, "axis": null},
   "text": {"field": "t"}
  }
 }
]
}
